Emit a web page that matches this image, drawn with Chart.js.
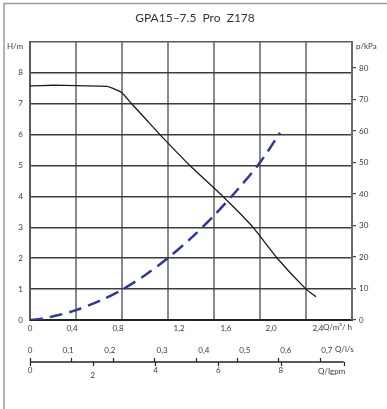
<!DOCTYPE html>
<html><head><meta charset="utf-8">
<script src="https://cdn.jsdelivr.net/npm/chart.js@4"></script>
<style>html,body{margin:0;padding:0;background:#fff}canvas{display:block}</style>
</head><body>
<canvas id="c" width="387" height="409"></canvas>
<script>
const title = 'GPA15\u20137.5  Pro  Z178';
// pump curve: flow Q (m³/h) and head H (m)
const pumpQ = [0, 0.2, 0.4, 0.6, 0.67, 0.75, 0.8, 0.884, 1.0, 1.13, 1.39, 1.678, 1.94, 2.15, 2.40, 2.487];
const pumpH = [7.58, 7.60, 7.59, 7.57, 7.56, 7.45, 7.36, 7.0, 6.53, 6.0, 5.0, 4.0, 3.0, 2.0, 1.0, 0.75];
// system curve (dashed)
const sysQ = [0, 0.1, 0.25, 0.4, 0.6, 0.8, 1.0, 1.2, 1.4, 1.6, 1.8, 2.0, 2.174];
const sysH = [0, 0.04, 0.16, 0.32, 0.61, 0.98, 1.45, 2.01, 2.65, 3.38, 4.2, 5.1, 6.06];
// axis ticks / labels
const hTicks = [0, 1, 2, 3, 4, 5, 6, 7, 8, 9];
const pTicks = [0, 10, 20, 30, 40, 50, 60, 70, 80];
const qTicks = [0, 0.4, 0.8, 1.2, 1.6, 2.0, 2.4, 2.8];
const qLabels = ['0', '0,4', '0,8', '1,2', '1,6', '2,0', '2,4'];
const qLabelAt = [0, 0.365, 0.765, 1.296, 1.704, 2.096, 2.504];
const lsTicks = [0, 0.1, 0.2, 0.3, 0.4, 0.5, 0.6, 0.7];
const lsLabels = ['0', '0,1', '0,2', '0,3', '0,4', '0,5', '0,6', '0,7'];
const lsLabelAt = [0, 0.092, 0.193, 0.319, 0.420, 0.519, 0.618, 0.717];
const gpmTicks = [0, 2, 4, 6, 8, 10];
const gpmLabels = ['0', '2', '4', '6', '8'];

const M3H_PER_LS = 3.6, M3H_PER_IGPM = 0.272765, KPA_PER_M = 9.80665;
const FONT = 'Lato, "Open Sans", sans-serif';
const TXT = '#3a3a3a';

const extras = {
  id: 'extras',
  beforeDraw(chart) {
    const c = chart.ctx;
    c.save();
    c.fillStyle = '#fff';
    c.fillRect(0, 0, chart.width, chart.height);
    c.strokeStyle = '#9a9a9a';
    c.lineWidth = 1.5;
    c.beginPath();
    c.moveTo(4, 409); c.lineTo(4, 3.5); c.lineTo(387, 3.5);
    c.stroke();
    c.restore();
  },
  afterDraw(chart) {
    const c = chart.ctx, x = chart.scales.x;
    c.save();
    c.fillStyle = '#333';
    c.font = '12px ' + FONT;
    c.textAlign = 'center'; c.textBaseline = 'middle';
    c.fillText(title, 195, 18);
    c.font = '8px ' + FONT;
    c.fillStyle = TXT;
    c.textAlign = 'left';
    c.fillText('H/m', 7, 46.5);
    c.fillText('p/kPa', 356, 46.5);
    // m³/h labels
    c.textAlign = 'center';
    qLabels.forEach((t, i) => c.fillText(t, x.getPixelForValue(qLabelAt[i]), 328));
    c.textAlign = 'left';
    c.fillText('Q/m\u00b3/ h', 323, 327);
    // l/s labels
    c.textAlign = 'center';
    lsLabels.forEach((t, i) => c.fillText(t, x.getPixelForValue(lsLabelAt[i] * M3H_PER_LS), 350));
    c.textAlign = 'left';
    c.fillText('Q/l/s', 335, 349);
    // gpm labels
    c.textAlign = 'center';
    gpmLabels.forEach((t, i) => c.fillText(t, x.getPixelForValue(gpmTicks[i] * M3H_PER_IGPM), t === '2' ? 375 : 370));
    c.textAlign = 'left';
    c.fillText('Q/Igpm', 318, 371);
    // secondary axis line
    const ly = 362;
    c.strokeStyle = '#222';
    c.lineWidth = 1.6;
    c.beginPath();
    c.moveTo(x.getPixelForValue(0), ly);
    c.lineTo(x.getPixelForValue(gpmTicks[gpmTicks.length - 1] * M3H_PER_IGPM), ly);
    c.stroke();
    c.lineWidth = 1.2;
    c.beginPath();
    lsTicks.forEach(v => { const px = Math.round(x.getPixelForValue(v * M3H_PER_LS)) + 0.5; c.moveTo(px, ly); c.lineTo(px, ly - 4); });
    gpmTicks.forEach(v => { const px = Math.round(x.getPixelForValue(v * M3H_PER_IGPM)) + 0.5; c.moveTo(px, ly); c.lineTo(px, ly + 4); });
    c.stroke();
    c.restore();
  }
};

new Chart(document.getElementById('c'), {
  type: 'line',
  data: {
    datasets: [
      {
        label: 'pump',
        data: pumpQ.map((q, i) => ({ x: q, y: pumpH[i] })),
        borderColor: '#1a1a1a', borderWidth: 1.3, pointRadius: 0, tension: 0.15, yAxisID: 'y'
      },
      {
        label: 'system',
        data: sysQ.map((q, i) => ({ x: q, y: sysH[i] })),
        borderColor: '#2f3a8f', borderWidth: 2.5, borderDash: [13, 7], pointRadius: 0, tension: 0.3, yAxisID: 'y'
      }
    ]
  },
  options: {
    responsive: false,
    devicePixelRatio: 1,
    animation: false,
    layout: { padding: { left: 0, right: 0, top: 42, bottom: 89 } },
    plugins: { legend: { display: false }, tooltip: { enabled: false }, title: { display: false } },
    scales: {
      x: {
        type: 'linear', min: 0, max: qTicks[qTicks.length - 1],
        afterBuildTicks: s => { s.ticks = qTicks.map(v => ({ value: v })); },
        afterFit: s => { s.height = 0; },
        ticks: { display: false },
        grid: { color: '#8a8a8a', lineWidth: 2, drawTicks: false },
        border: { display: true, color: '#222', width: 2 }
      },
      y: {
        type: 'linear', position: 'left', min: 0, max: hTicks[hTicks.length - 1],
        afterBuildTicks: s => { s.ticks = hTicks.map(v => ({ value: v })); },
        afterFit: s => { s.width = 30; },
        ticks: {
          padding: 7, color: TXT, font: { family: FONT, size: 8 },
          callback: v => (v === hTicks[hTicks.length - 1] ? '' : String(v))
        },
        grid: { color: ctx => (ctx.tick && ctx.tick.value === hTicks[hTicks.length - 1] ? '#5a5a5a' : '#3c3c3c'), lineWidth: 1.6, drawTicks: false },
        border: { display: true, color: '#5a5a5a', width: 2 }
      },
      y2: {
        type: 'linear', position: 'right', min: 0, max: hTicks[hTicks.length - 1] * KPA_PER_M,
        afterBuildTicks: s => { s.ticks = pTicks.map(v => ({ value: v })); },
        afterFit: s => { s.width = 35; },
        ticks: { padding: 3, color: TXT, font: { family: FONT, size: 8 } },
        grid: { drawOnChartArea: false, drawTicks: true, tickLength: 4, color: '#444', lineWidth: 1.2 },
        border: { display: true, color: '#6a6a6a', width: 2 }
      }
    }
  },
  plugins: [extras]
});
</script>
</body></html>
